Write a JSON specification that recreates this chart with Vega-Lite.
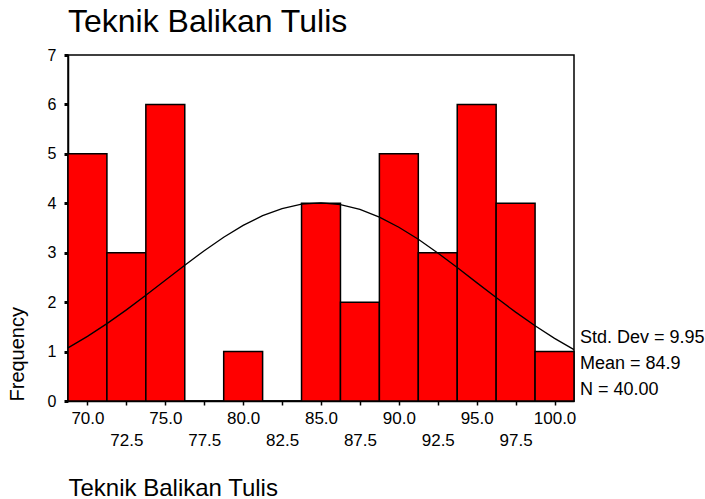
{
  "$schema": "https://vega.github.io/schema/vega-lite/v6.json",
  "width": 506,
  "height": 346,
  "autosize": "none",
  "padding": {"left": 68, "top": 55, "right": 131, "bottom": 98},
  "background": "white",
  "config": {
    "font": "Liberation Sans",
    "view": {"stroke": "black", "strokeWidth": 1.5},
    "axis": {"grid": false, "domainColor": "black", "domainWidth": 1.5, "tickColor": "black", "labelColor": "black", "titleColor": "black", "labelFont": "Liberation Sans", "titleFont": "Liberation Sans", "titleFontWeight": "normal"}
  },
  "title": {"text": "Teknik Balikan Tulis", "anchor": "start", "frame": "group", "fontSize": 32, "fontWeight": "normal", "font": "Liberation Sans", "color": "black", "offset": 8},
  "datasets": {
    "bins": [
      {"start": 68.75, "end": 71.25, "count": 5},
      {"start": 71.25, "end": 73.75, "count": 3},
      {"start": 73.75, "end": 76.25, "count": 6},
      {"start": 76.25, "end": 78.75, "count": 0},
      {"start": 78.75, "end": 81.25, "count": 1},
      {"start": 81.25, "end": 83.75, "count": 0},
      {"start": 83.75, "end": 86.25, "count": 4},
      {"start": 86.25, "end": 88.75, "count": 2},
      {"start": 88.75, "end": 91.25, "count": 5},
      {"start": 91.25, "end": 93.75, "count": 3},
      {"start": 93.75, "end": 96.25, "count": 6},
      {"start": 96.25, "end": 98.75, "count": 4},
      {"start": 98.75, "end": 101.25, "count": 1}
    ],
    "curve": [
      {"x": 68.75, "f": 1.074}, {"x": 70.0, "f": 1.307}, {"x": 71.25, "f": 1.565}, {"x": 72.5, "f": 1.844},
      {"x": 73.75, "f": 2.140}, {"x": 75.0, "f": 2.444}, {"x": 76.25, "f": 2.748}, {"x": 77.5, "f": 3.041},
      {"x": 78.75, "f": 3.312}, {"x": 80.0, "f": 3.552}, {"x": 81.25, "f": 3.749}, {"x": 82.5, "f": 3.894},
      {"x": 83.75, "f": 3.983}, {"x": 85.0, "f": 4.009}, {"x": 86.25, "f": 3.973}, {"x": 87.5, "f": 3.875},
      {"x": 88.75, "f": 3.720}, {"x": 90.0, "f": 3.516}, {"x": 91.25, "f": 3.271}, {"x": 92.5, "f": 2.995},
      {"x": 93.75, "f": 2.700}, {"x": 95.0, "f": 2.395}, {"x": 96.25, "f": 2.092}, {"x": 97.5, "f": 1.798},
      {"x": 98.75, "f": 1.522}, {"x": 100.0, "f": 1.268}, {"x": 101.25, "f": 1.039}
    ],
    "stats": [
      {"label": "Std. Dev = 9.95", "pos": 1.27},
      {"label": "Mean = 84.9", "pos": 0.75},
      {"label": "N = 40.00", "pos": 0.22}
    ]
  },
  "layer": [
    {
      "data": {"name": "bins"},
      "mark": {"type": "rect", "fill": "#ff0000", "stroke": "black", "strokeWidth": 1.5},
      "encoding": {
        "x": {"field": "start", "type": "quantitative",
          "scale": {"domain": [68.75, 101.25], "nice": false, "zero": false},
          "axis": {"title": "Teknik Balikan Tulis", "values": [70, 72.5, 75, 77.5, 80, 82.5, 85, 87.5, 90, 92.5, 95, 97.5, 100], "format": ".1f",
            "labelFontSize": 17, "tickSize": 4, "tickWidth": 1.5,
            "labelPadding": {"condition": {"test": "(datum.value * 2) % 10 == 5", "value": 27}, "value": 5},
            "labelFlush": false, "labelOverlap": false,
            "titleFontSize": 24, "titleX": 0, "titleY": 87, "titleAlign": "left", "titleBaseline": "middle", "titleAnchor": null}},
        "x2": {"field": "end"},
        "y": {"field": "count", "type": "quantitative",
          "scale": {"domain": [0, 7], "nice": false},
          "axis": {"title": "Frequency", "values": [0, 1, 2, 3, 4, 5, 6, 7], "labelFontSize": 16, "tickSize": 4, "tickWidth": 3, "labelPadding": 8,
            "titleFontSize": 20, "titleX": -51, "titleY": 346, "titleAngle": 270, "titleAlign": "left", "titleBaseline": "middle"}},
        "y2": {"datum": 0}
      }
    },
    {
      "data": {"name": "curve"},
      "mark": {"type": "line", "color": "black", "strokeWidth": 1.3},
      "encoding": {
        "x": {"field": "x", "type": "quantitative"},
        "y": {"field": "f", "type": "quantitative"}
      }
    },
    {
      "data": {"name": "stats"},
      "mark": {"type": "text", "align": "left", "baseline": "middle", "dx": 6, "fontSize": 18, "font": "Liberation Sans", "color": "black"},
      "encoding": {
        "x": {"datum": 101.25, "type": "quantitative"},
        "y": {"field": "pos", "type": "quantitative"},
        "text": {"field": "label"}
      }
    }
  ]
}
